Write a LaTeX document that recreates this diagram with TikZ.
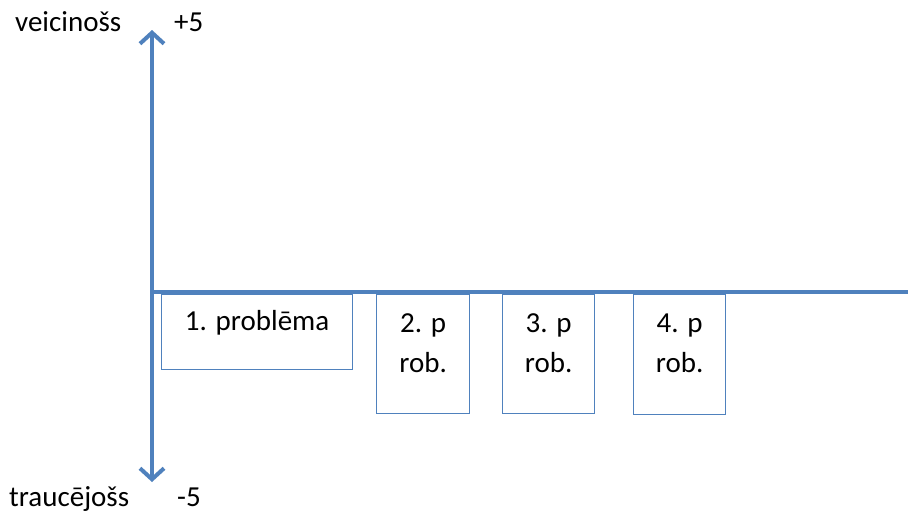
\documentclass[tikz,border=0pt]{standalone}
\usepackage{fontspec}
\setmainfont{Carlito}
\usetikzlibrary{arrows.meta,calc}
\definecolor{axisblue}{HTML}{4F81BD}
\tikzset{
  axisline/.style={draw=axisblue, line width=4pt},
  axisarrow/.style={axisline, -{Straight Barb[length=11pt,width=24pt,line width=4pt]}},
  probbox/.style={draw=axisblue, line width=1.3pt, rectangle, anchor=north west, inner sep=0pt},
  lbl/.style={anchor=base, inner sep=0pt, font=\fontsize{29}{35}\selectfont}
}
\begin{document}
\begin{tikzpicture}[x=1pt,y=-1pt]
\useasboundingbox[fill=white] (0,0) rectangle (908,514);
% axes
\coordinate (origin) at (152,292);
\coordinate (top) at (152,30);
\coordinate (bottom) at (152,482);
\coordinate (right) at (908,292);
\draw[axisarrow] (origin) -- (top);
\draw[axisarrow] (origin) -- (bottom);
\draw[axisline] (origin) -- (right);
% boxes
\node[probbox, minimum width=191pt, minimum height=75pt] (b1) at (161,294) {};
\node[probbox, minimum width=93pt, minimum height=119pt] (b2) at (376,294) {};
\node[probbox, minimum width=92pt, minimum height=119pt] (b3) at (502,294) {};
\node[probbox, minimum width=92pt, minimum height=120pt] (b4) at (633,294) {};
% box labels
\node[lbl] (t1) at ($(b1.north)+(0,36)$) {1. problēma};
\node[lbl] (t2a) at ($(b2.north)+(0,38)$) {2. p};
\node[lbl] (t2b) at ($(b2.north)+(0,78)$) {rob.};
\node[lbl] (t3a) at ($(b3.north)+(0,38)$) {3. p};
\node[lbl] (t3b) at ($(b3.north)+(0,78)$) {rob.};
\node[lbl] (t4a) at ($(b4.north)+(0,38)$) {4. p};
\node[lbl] (t4b) at ($(b4.north)+(0,78)$) {rob.};
% axis labels
\node[lbl, anchor=base west] (pos) at (15,31) {veicinošs};
\node[lbl, anchor=base west] (plus) at (174,31) {+5};
\node[lbl, anchor=base west] (neg) at (9,506) {traucējošs};
\node[lbl, anchor=base west] (minus) at (177,506) {-5};
\end{tikzpicture}
\end{document}
